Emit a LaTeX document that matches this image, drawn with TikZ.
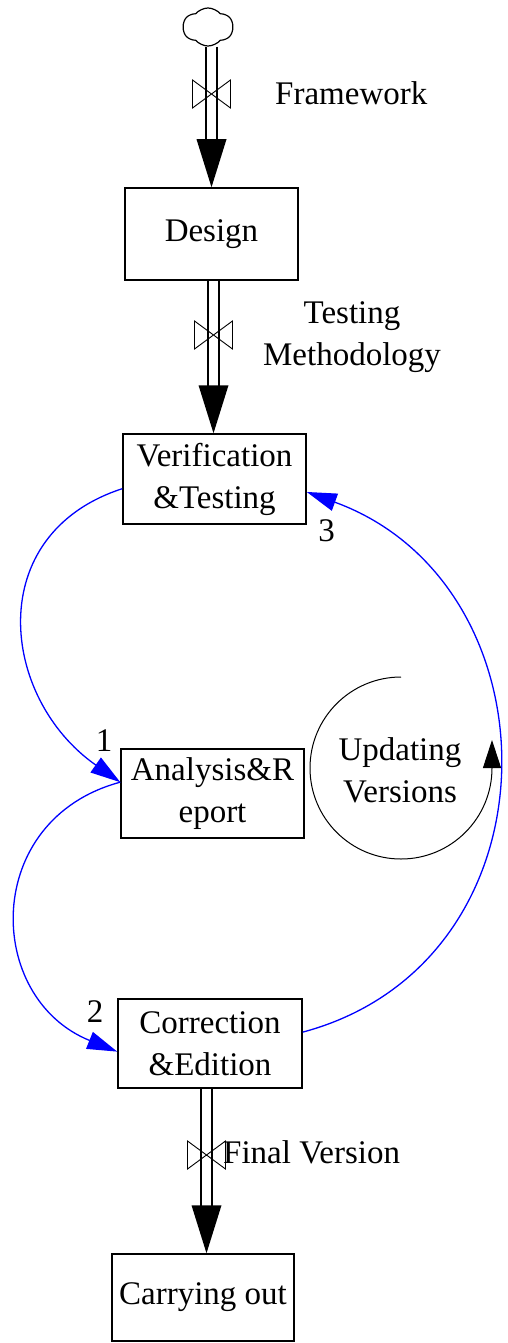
\documentclass[tikz,border=0pt]{standalone}
\usepackage{fontspec}
\setmainfont{Liberation Serif}
\usetikzlibrary{shapes.symbols,arrows.meta}

\tikzset{
  pipehead/.pic={\fill (0,0) -- (-15,48) -- (15,48) -- cycle;},
  valve/.pic={\draw[line width=0.9pt] (-19,14) -- (19,-14) -- (19,14) -- (-19,-14) -- cycle;}
}

\begin{document}
\begin{tikzpicture}[x=1pt,y=1pt,
  every node/.style={inner sep=0pt, font=\fontsize{33}{42}\selectfont},
  stock/.style={draw, line width=1.5pt, align=center},
  pipe/.style={double, double distance=9.6pt, line width=1.4pt, shorten >=46pt},
  link/.style={draw=blue, line width=1.3pt, -{Triangle[length=30pt,width=18pt]}},
  loopline/.style={line width=1pt, -{Triangle[length=28pt,width=18pt]}}
]
\path[use as bounding box, fill=white] (0,0) rectangle (507,-1343);

% source cloud and stocks
\node[cloud, draw, line width=1.2pt, cloud puffs=6, cloud puff arc=100, cloud ignores aspect,
      minimum width=50pt, minimum height=38pt] (src) at (208,-27) {};
\node[stock, minimum width=173pt, minimum height=92pt] (design)   at (211.5,-234)  {Design};
\node[stock, minimum width=183pt, minimum height=90pt] (verif)    at (214.5,-479)  {Verification\\\&Testing};
\node[stock, minimum width=183pt, minimum height=89pt] (analysis) at (212.5,-793.5) {Analysis\&R\\eport};
\node[stock, minimum width=184pt, minimum height=89pt] (corr)     at (210,-1043.5) {Correction\\\&Edition};
\node[stock, minimum width=182pt, minimum height=87pt] (carry)    at (203,-1297.5) {Carrying out};

% valve positions on the flows
\coordinate (v1) at (211.5,-94);
\coordinate (v2) at (213.5,-335);
\coordinate (v3) at (206.5,-1155);

% flows
\draw[pipe] (src.south -| v1) -- (design.north -| v1);
\path (design.north -| v1) pic {pipehead};
\path (v1) pic {valve};

\draw[pipe] (design.south -| v2) -- (verif.north -| v2);
\path (verif.north -| v2) pic {pipehead};
\path (v2) pic {valve};

\draw[pipe] (corr.south -| v3) -- (carry.north -| v3);
\path (carry.north -| v3) pic {pipehead};
\path (v3) pic {valve};

% flow labels
\node[anchor=base west] (fw) at (275,-105) {Framework};
\node[align=center] (tm) at (352,-337) {Testing\\Methodology};
\node[anchor=base west] (fv) at (223,-1163) {Final Version};

% causal links
\draw[link] (verif.186) to[out=198,in=145,looseness=1.28] (analysis.173);
\draw[link] (analysis.173) to[out=195,in=158,looseness=1.36] (corr.185);
\draw[link] (corr.7) to[out=15,in=340,looseness=1.28] (verif.352);

\node (n1) at (104,-741) {1};
\node (n2) at (95,-1012) {2};
\node (n3) at (326.5,-531) {3};

% loop
\node[align=center] (uv) at (400,-770) {Updating\\Versions};
\coordinate (lc) at (401,-768);
\draw[loopline] (lc) ++(90:91) arc[start angle=90,end angle=360,radius=91] -- ++(0,28);
\end{tikzpicture}
\end{document}
